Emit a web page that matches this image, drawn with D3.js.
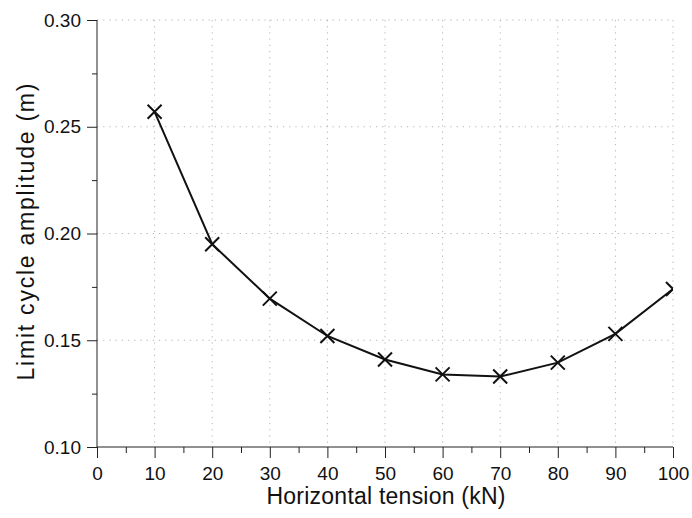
<!DOCTYPE html>
<html>
<head>
<meta charset="utf-8">
<script src="https://cdn.jsdelivr.net/npm/d3@7"></script>
<style>
  html, body { margin: 0; padding: 0; background: #fff; }
  svg { display: block; font-family: "Liberation Sans", Arial, sans-serif; }
  .grid line { stroke: #a0a0a0; stroke-width: 0.8; stroke-dasharray: 1.2 5; }
  .axis path, .axis line { stroke: #222; }
  .axis text { font-size: 19px; fill: #111; }
</style>
</head>
<body>
<div id="chart"></div>
<script>
// Werte
const tension = [10, 20, 30, 40, 50, 60, 70, 80, 90, 100];
const amplitude = [0.257, 0.195, 0.1695, 0.152, 0.141, 0.134, 0.133, 0.1395, 0.153, 0.174];
const xTicks = [0, 10, 20, 30, 40, 50, 60, 70, 80, 90, 100];
const yTicks = [0.10, 0.15, 0.20, 0.25, 0.30];
const xMinor = [5, 15, 25, 35, 45, 55, 65, 75, 85, 95];
const yMinor = [0.125, 0.175, 0.225, 0.275];

const width = 692, height = 518;
const margin = { top: 20, right: 19, bottom: 71, left: 97 };
const innerW = width - margin.left - margin.right;
const innerH = height - margin.top - margin.bottom;

const x = d3.scaleLinear().domain([0, 100]).range([0, innerW]);
const y = d3.scaleLinear().domain([0.10, 0.30]).range([innerH, 0]);

const svg = d3.select("#chart").append("svg")
    .attr("width", width)
    .attr("height", height);

const g = svg.append("g").attr("transform", `translate(${margin.left},${margin.top})`);

svg.append("defs").append("clipPath").attr("id", "plotClip")
    .append("rect").attr("width", innerW).attr("height", innerH);

// Gitterlinien
const grid = g.append("g").attr("class", "grid");
grid.selectAll(".gx").data(xTicks.filter(d => d > 0))
    .join("line")
    .attr("x1", d => x(d)).attr("x2", d => x(d))
    .attr("y1", 0).attr("y2", innerH);
grid.selectAll(".gy").data(yTicks.filter(d => d > 0.10))
    .join("line")
    .attr("class", "gy")
    .attr("x1", 0).attr("x2", innerW)
    .attr("y1", d => y(d)).attr("y2", d => y(d));

// Achsen
const xAxis = g.append("g").attr("class", "axis")
    .attr("transform", `translate(0,${innerH})`)
    .call(d3.axisBottom(x).tickValues(xTicks).tickSize(11).tickPadding(9).tickFormat(d3.format("d")));
xAxis.select(".domain").attr("d", `M0,0H${innerW}`);

g.append("g").attr("class", "axis")
    .attr("transform", `translate(0,${innerH})`)
    .call(d3.axisBottom(x).tickValues(xMinor).tickSize(6).tickFormat(""))
    .select(".domain").remove();

const yAxis = g.append("g").attr("class", "axis")
    .call(d3.axisLeft(y).tickValues(yTicks).tickSize(10).tickPadding(6).tickFormat(d3.format(".2f")));
yAxis.select(".domain").attr("d", `M0,0V${innerH}`);

g.append("g").attr("class", "axis")
    .call(d3.axisLeft(y).tickValues(yMinor).tickSize(5).tickFormat(""))
    .select(".domain").remove();

// Kurve
const pts = tension.map((t, i) => ({ t, a: amplitude[i] }));
const plot = g.append("g").attr("clip-path", "url(#plotClip)");

plot.append("path")
    .datum(pts)
    .attr("fill", "none")
    .attr("stroke", "#111")
    .attr("stroke-width", 2)
    .attr("d", d3.line().x(d => x(d.t)).y(d => y(d.a)));

// Kreuzmarker
const s = 7;
plot.selectAll(".mk").data(pts)
    .join("path")
    .attr("transform", d => `translate(${x(d.t)},${y(d.a)})`)
    .attr("d", `M${-s},${-s}L${s},${s}M${-s},${s}L${s},${-s}`)
    .attr("stroke", "#111")
    .attr("stroke-width", 2)
    .attr("fill", "none");

// Achsentitel
svg.append("text")
    .attr("x", margin.left + innerW / 2 + 1)
    .attr("y", 504)
    .attr("text-anchor", "middle")
    .attr("font-size", 23)
    .attr("textLength", 239)
    .attr("fill", "#111")
    .text("Horizontal tension (kN)");

svg.append("text")
    .attr("transform", `translate(34,232) rotate(-90)`)
    .attr("text-anchor", "middle")
    .attr("font-size", 23)
    .attr("textLength", 297)
    .attr("fill", "#111")
    .text("Limit cycle amplitude (m)");
</script>
</body>
</html>
